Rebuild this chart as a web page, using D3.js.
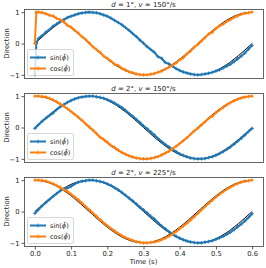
<!DOCTYPE html>
<html>
<head>
<meta charset="utf-8">
<script src="https://cdn.jsdelivr.net/npm/d3@7.9.0/dist/d3.min.js"></script>
<style>
  body { margin: 0; background: #fff; }
  svg { display: block; font-family: "DejaVu Sans", sans-serif; }
</style>
</head>
<body>
<svg id="chart" width="266" height="268"></svg>
<script>
// time stamps (s)
const times = [0.00, 0.01, 0.02, 0.03, 0.04, 0.05, 0.06, 0.07, 0.08, 0.09,
  0.10, 0.11, 0.12, 0.13, 0.14, 0.15, 0.16, 0.17, 0.18, 0.19,
  0.20, 0.21, 0.22, 0.23, 0.24, 0.25, 0.26, 0.27, 0.28, 0.29,
  0.30, 0.31, 0.32, 0.33, 0.34, 0.35, 0.36, 0.37, 0.38, 0.39,
  0.40, 0.41, 0.42, 0.43, 0.44, 0.45, 0.46, 0.47, 0.48, 0.49,
  0.50, 0.51, 0.52, 0.53, 0.54, 0.55, 0.56, 0.57, 0.58, 0.59, 0.60];
// first run has an extra start-up sample
const times1 = [0.000, 0.004].concat(times.slice(1));

// true direction (black)
const trueTimes = [0, 0.025, 0.05, 0.075, 0.1, 0.125, 0.15, 0.175, 0.2, 0.225, 0.25, 0.275, 0.3,
  0.325, 0.35, 0.375, 0.4, 0.425, 0.45, 0.475, 0.5, 0.525, 0.55, 0.575, 0.6];
const trueSin = [0, 0.259, 0.5, 0.707, 0.866, 0.966, 1, 0.966, 0.866, 0.707, 0.5, 0.259, 0,
  -0.259, -0.5, -0.707, -0.866, -0.966, -1, -0.966, -0.866, -0.707, -0.5, -0.259, 0];
const trueCos = [1, 0.966, 0.866, 0.707, 0.5, 0.259, 0, -0.259, -0.5, -0.707, -0.866, -0.966, -1,
  -0.966, -0.866, -0.707, -0.5, -0.259, 0, 0.259, 0.5, 0.707, 0.866, 0.966, 1];

// panel 1: d = 1°, v = 150°/s
const sin1 = [-1.0, 0.0, 0.16, 0.25, 0.36, 0.44, 0.55, 0.62, 0.70, 0.76, 0.83,
  0.87, 0.91, 0.95, 0.97, 0.99, 1.0, 0.99, 0.98, 0.95, 0.91,
  0.87, 0.81, 0.74, 0.67, 0.60, 0.51, 0.42, 0.32, 0.22, 0.11,
  0.01, -0.10, -0.19, -0.28, -0.42, -0.47, -0.60, -0.65, -0.72, -0.80,
  -0.86, -0.91, -0.94, -0.97, -0.99, -1.0, -0.99, -0.97, -0.95, -0.92,
  -0.88, -0.84, -0.78, -0.72, -0.66, -0.58, -0.49, -0.40, -0.30, -0.18, -0.06];
const cos1 = [0.0, 1.0, 1.0, 0.99, 0.95, 0.90, 0.88, 0.80, 0.76, 0.69, 0.58,
  0.52, 0.42, 0.33, 0.22, 0.13, 0.02, -0.10, -0.19, -0.28, -0.40,
  -0.47, -0.56, -0.66, -0.70, -0.79, -0.84, -0.90, -0.93, -0.97, -0.99,
  -1.0, -1.0, -0.98, -0.96, -0.92, -0.88, -0.82, -0.76, -0.69, -0.62,
  -0.52, -0.45, -0.33, -0.24, -0.12, -0.03, 0.08, 0.19, 0.30, 0.36,
  0.48, 0.56, 0.62, 0.70, 0.76, 0.83, 0.88, 0.93, 0.96, 0.98, 1.0];

// panel 2: d = 2°, v = 150°/s
const sin2 = [-0.03, 0.09, 0.20, 0.29, 0.38, 0.46, 0.57, 0.66, 0.73, 0.80,
  0.86, 0.91, 0.95, 0.97, 0.99, 1.0, 1.0, 0.98, 0.96, 0.93,
  0.89, 0.84, 0.78, 0.71, 0.64, 0.55, 0.45, 0.36, 0.26, 0.16,
  0.05, -0.04, -0.14, -0.24, -0.35, -0.45, -0.54, -0.62, -0.70, -0.77,
  -0.84, -0.89, -0.93, -0.97, -0.99, -1.0, -1.0, -0.99, -0.96, -0.93,
  -0.89, -0.83, -0.77, -0.70, -0.62, -0.53, -0.44, -0.34, -0.24, -0.13, -0.03];
const cos2 = [1.0, 1.0, 0.99, 0.97, 0.93, 0.88, 0.82, 0.75, 0.68, 0.60,
  0.51, 0.42, 0.33, 0.23, 0.12, 0.02, -0.08, -0.19, -0.31, -0.38,
  -0.47, -0.57, -0.63, -0.72, -0.79, -0.85, -0.90, -0.94, -0.97, -0.99,
  -1.0, -1.0, -0.99, -0.96, -0.93, -0.88, -0.82, -0.76, -0.68, -0.60,
  -0.51, -0.42, -0.33, -0.22, -0.11, -0.02, 0.08, 0.18, 0.29, 0.36,
  0.47, 0.56, 0.64, 0.72, 0.79, 0.85, 0.90, 0.94, 0.97, 0.99, 1.0];

// panel 3: d = 2°, v = 225°/s
const sin3 = [-0.06, 0.06, 0.18, 0.28, 0.38, 0.48, 0.57, 0.66, 0.72, 0.75,
  0.80, 0.88, 0.93, 0.96, 0.98, 1.0, 1.0, 0.98, 0.96, 0.93,
  0.88, 0.83, 0.76, 0.69, 0.61, 0.52, 0.43, 0.34, 0.24, 0.14,
  0.05, -0.05, -0.15, -0.24, -0.36, -0.46, -0.55, -0.64, -0.72, -0.79,
  -0.85, -0.90, -0.94, -0.97, -0.99, -1.0, -1.0, -0.98, -0.96, -0.93,
  -0.89, -0.84, -0.79, -0.73, -0.66, -0.58, -0.49, -0.40, -0.30, -0.19, -0.07];
const cos3 = [1.0, 1.0, 0.99, 0.97, 0.93, 0.89, 0.83, 0.77, 0.70, 0.64,
  0.55, 0.46, 0.37, 0.27, 0.16, 0.06, -0.05, -0.15, -0.26, -0.36,
  -0.45, -0.54, -0.62, -0.70, -0.77, -0.83, -0.88, -0.92, -0.96, -0.98,
  -1.0, -1.0, -0.99, -0.97, -0.94, -0.90, -0.85, -0.79, -0.72, -0.64,
  -0.55, -0.46, -0.37, -0.27, -0.17, -0.06, 0.05, 0.16, 0.26, 0.36,
  0.46, 0.55, 0.63, 0.71, 0.78, 0.84, 0.89, 0.93, 0.96, 0.98, 1.0];

const panels = [
  { d: "1", v: "150", t: times1, sin: sin1, cos: cos1 },
  { d: "2", v: "150", t: times, sin: sin2, cos: cos2 },
  { d: "2", v: "225", t: times, sin: sin3, cos: cos3 }
];
const xTicks = [0, 0.1, 0.2, 0.3, 0.4, 0.5, 0.6];
const yTicks = [-1, 0, 1];

const blue = "#1f77b4", orange = "#ff7f0e";
const left = 24, right = 263, panelH = 69, tops = [9, 93, 177];

const svg = d3.select("#chart");

const x = d3.scaleLinear().domain([-0.03, 0.63]).range([left, right]);

panels.forEach((p, i) => {
    const top = tops[i];
    const y = d3.scaleLinear().domain([-1.1, 1.1]).range([top + panelH, top]);
    const g = svg.append("g");

    const line = d3.line().x(d => x(d[0])).y(d => y(d[1]));

    // true direction underneath
    line.curve(d3.curveNatural);
    [trueSin, trueCos].forEach(vals => {
        g.append("path")
            .attr("d", line(trueTimes.map((t, k) => [t, vals[k]])))
            .attr("fill", "none").attr("stroke", "#000").attr("stroke-width", 1);
    });

    line.curve(d3.curveLinear);
    [[p.sin, blue], [p.cos, orange]].forEach(([vals, col]) => {
        const pts = p.t.map((t, k) => [t, vals[k]]);
        g.append("path")
            .attr("d", line(pts))
            .attr("fill", "none").attr("stroke", col).attr("stroke-width", 2);
        g.append("g").selectAll("path")
            .data(pts)
            .join("path")
            .attr("d", d => `M${x(d[0]) - 1.8},${y(d[1])}h3.6M${x(d[0])},${y(d[1]) - 1.8}v3.6`)
            .attr("stroke", col).attr("stroke-width", 0.9);
    });

    // frame
    g.append("rect")
        .attr("x", left + 0.5).attr("y", top + 0.5)
        .attr("width", right - left).attr("height", panelH)
        .attr("fill", "none").attr("stroke", "#555").attr("stroke-width", 0.9);

    // y axis
    const ya = g.append("g")
        .attr("transform", `translate(${left + 0.5},0)`)
        .call(d3.axisLeft(y).tickValues(yTicks).tickFormat(d3.format("d")).tickSize(3).tickPadding(2));
    ya.select(".domain").remove();
    ya.selectAll("line").attr("stroke", "#333").attr("stroke-width", 0.8);
    ya.selectAll("text").attr("font-size", 6.8).attr("fill", "#222")
        .attr("font-family", "DejaVu Sans");

    if (i === panels.length - 1) {
        const xa = g.append("g")
            .attr("transform", `translate(0,${top + panelH + 0.5})`)
            .call(d3.axisBottom(x).tickValues(xTicks).tickFormat(d3.format(".1f")).tickSize(3).tickPadding(2));
        xa.select(".domain").remove();
        xa.selectAll("line").attr("stroke", "#333").attr("stroke-width", 0.8);
        xa.selectAll("text").attr("font-size", 6.8).attr("fill", "#222")
            .attr("font-family", "DejaVu Sans");
        svg.append("text")
            .attr("x", (left + right) / 2).attr("y", 263.5)
            .attr("text-anchor", "middle").attr("font-size", 6.8).attr("fill", "#222")
            .text("Time (s)");
    }

    // y label
    svg.append("text")
        .attr("transform", `translate(8.5,${top + panelH / 2}) rotate(-90)`)
        .attr("text-anchor", "middle").attr("font-size", 6.8).attr("fill", "#222")
        .text("Direction");

    // title
    const title = svg.append("text")
        .attr("x", (left + right) / 2).attr("y", top - 2)
        .attr("text-anchor", "middle").attr("font-size", 7).attr("fill", "#222");
    title.append("tspan").attr("font-style", "italic").text("d");
    title.append("tspan").text(` = ${p.d}°,  `);
    title.append("tspan").attr("font-style", "italic").text("v");
    title.append("tspan").text(` = ${p.v}°/s`);

    // legend
    const lg = g.append("g").attr("transform", `translate(${left + 3},${top + panelH - 29})`);
    lg.append("rect")
        .attr("x", 0.5).attr("y", 0.5).attr("width", 46).attr("height", 26).attr("rx", 1.5)
        .attr("fill", "#fff").attr("fill-opacity", 0.8)
        .attr("stroke", "#ccc").attr("stroke-width", 0.8);
    [["sin", blue], ["cos", orange]].forEach(([name, col], k) => {
        const ly = 8.5 + k * 11;
        lg.append("line").attr("x1", 3).attr("x2", 19).attr("y1", ly).attr("y2", ly)
            .attr("stroke", col).attr("stroke-width", 2);
        lg.append("path").attr("d", `M9,${ly}h4M11,${ly - 2}v4`)
            .attr("stroke", col).attr("stroke-width", 0.9);
        const lt = lg.append("text").attr("x", 23).attr("y", ly + 2.4)
            .attr("font-size", 6.5).attr("fill", "#222");
        lt.append("tspan").text(name + "(");
        lt.append("tspan").attr("font-style", "italic").text("\u03D5\u0302");
        lt.append("tspan").text(")");
    });
});
</script>
</body>
</html>
